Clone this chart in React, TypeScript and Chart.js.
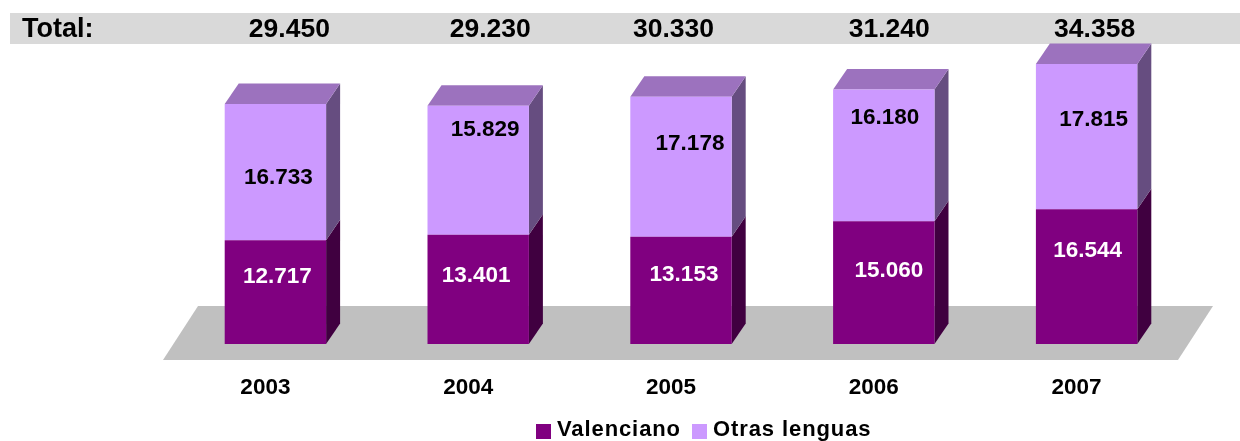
import React, { useEffect, useRef } from "react";
import { Chart, registerables } from "chart.js";

Chart.register(...registerables);

const years = ["2003", "2004", "2005", "2006", "2007"];
const valenciano = [12717, 13401, 13153, 15060, 16544];
const otrasLenguas = [16733, 15829, 17178, 16180, 17815];
const totals = [29450, 29230, 30330, 31240, 34358];

// Hand-placed label nudges of the original, in px from the centre of each segment / bar.
const valNudge = [[2, -15], [-2, -13.5], [3, -15.5], [5, -11.5], [1, -26]];
const otrNudge = [[3, 5.5], [7, -40.5], [9, -23.5], [1, -37.5], [7, -16.5]];
const totalNudgeX = [14, 12, -7.5, 5.5, 8];

const FONT = '"Liberation Sans", Arial, sans-serif';
const PURPLE = "#800080";
const LILAC = "#CC99FF";
const DEPTH_X = 14;
const DEPTH_Y = 20.5;

const fmt = (n: number) => String(n).replace(/\B(?=(\d{3})+$)/g, ".");

function poly(ctx: CanvasRenderingContext2D, color: string, pts: number[][]) {
  ctx.fillStyle = color;
  ctx.beginPath();
  pts.forEach(([x, y], i) => (i ? ctx.lineTo(x, y) : ctx.moveTo(x, y)));
  ctx.closePath();
  ctx.fill();
}

const scene = {
  id: "scene",
  beforeDatasetsDraw(chart: any) {
    const ctx: CanvasRenderingContext2D = chart.ctx;
    ctx.save();
    // total band
    ctx.fillStyle = "#D9D9D9";
    ctx.fillRect(10, 13, 1230, 31);
    // floor
    poly(ctx, "#C0C0C0", [[198, 306], [1213, 306], [1178, 360], [163, 360]]);
    // 3D sides and roof
    const low = chart.getDatasetMeta(0).data;
    const high = chart.getDatasetMeta(1).data;
    low.forEach((b: any, i: number) => {
      const t = high[i];
      const r = b.x + b.width / 2;
      const l = b.x - b.width / 2;
      poly(ctx, "#400040", [[r, b.base], [r + DEPTH_X, b.base - DEPTH_Y], [r + DEPTH_X, b.y - DEPTH_Y], [r, b.y]]);
      poly(ctx, "#664D80", [[r, b.y], [r + DEPTH_X, b.y - DEPTH_Y], [r + DEPTH_X, t.y - DEPTH_Y], [r, t.y]]);
      poly(ctx, "#9C72BE", [[l, t.y], [l + DEPTH_X, t.y - DEPTH_Y], [r + DEPTH_X, t.y - DEPTH_Y], [r, t.y]]);
    });
    ctx.restore();
  },
  afterDatasetsDraw(chart: any) {
    const ctx: CanvasRenderingContext2D = chart.ctx;
    const low = chart.getDatasetMeta(0).data;
    const high = chart.getDatasetMeta(1).data;
    ctx.save();
    ctx.textBaseline = "middle";
    ctx.textAlign = "center";
    ctx.font = `bold 22.5px ${FONT}`;
    low.forEach((b: any, i: number) => {
      const t = high[i];
      ctx.fillStyle = "#FFFFFF";
      ctx.fillText(fmt(valenciano[i]), b.x + valNudge[i][0], (b.y + b.base) / 2 + valNudge[i][1]);
      ctx.fillStyle = "#000000";
      ctx.fillText(fmt(otrasLenguas[i]), t.x + otrNudge[i][0], (t.y + t.base) / 2 + otrNudge[i][1]);
    });
    // totals row
    ctx.font = `bold 26.5px ${FONT}`;
    ctx.fillStyle = "#000000";
    low.forEach((b: any, i: number) => {
      ctx.fillText(fmt(totals[i]), b.x + totalNudgeX[i], 29.5);
    });
    ctx.font = `bold 27px ${FONT}`;
    ctx.textAlign = "left";
    ctx.fillText("Total:", 22, 29.5);
    // legend
    const entries: [number, number][] = [[536, 557], [692, 713]];
    chart.data.datasets.forEach((d: any, i: number) => {
      const [bx, tx] = entries[i];
      ctx.fillStyle = d.backgroundColor;
      ctx.fillRect(bx, 424, 15, 15);
      ctx.fillStyle = "#000000";
      ctx.font = `bold 22px ${FONT}`;
      (ctx as any).letterSpacing = "0.9px";
      ctx.textBaseline = "alphabetic";
      ctx.fillText(d.label, tx, 435.5);
    });
    ctx.restore();
  },
};

export default function App() {
  const ref = useRef<HTMLCanvasElement>(null);
  useEffect(() => {
    const chart = new Chart(ref.current!, {
      type: "bar",
      data: {
        labels: years,
        datasets: [
          { label: "Valenciano", data: valenciano, backgroundColor: PURPLE, borderWidth: 0 },
          { label: "Otras lenguas", data: otrasLenguas, backgroundColor: LILAC, borderWidth: 0 },
        ],
      },
      options: {
        responsive: false,
        animation: false,
        devicePixelRatio: 1,
        layout: { padding: { left: 174, right: 52, top: 18, bottom: 0 } },
        plugins: { legend: { display: false }, tooltip: { enabled: false } },
        datasets: { bar: { categoryPercentage: 1, barPercentage: 0.5 } },
        scales: {
          x: {
            stacked: true,
            grid: { display: false },
            border: { display: false },
            afterFit: (s: any) => {
              s.height = 97;
            },
            ticks: {
              color: "#000000",
              font: { family: FONT, size: 22.5, weight: "bold" },
              padding: 22,
              labelOffset: -10,
              autoSkip: false,
              maxRotation: 0,
            },
          },
          y: { stacked: true, display: false, min: 0, max: 40000 },
        },
      } as any,
      plugins: [scene],
    });
    return () => chart.destroy();
  }, []);
  return (
    <div style={{ position: "absolute", left: 0, top: 0, width: 1240, height: 441 }}>
      <canvas ref={ref} width={1240} height={441} style={{ display: "block" }} />
    </div>
  );
}
